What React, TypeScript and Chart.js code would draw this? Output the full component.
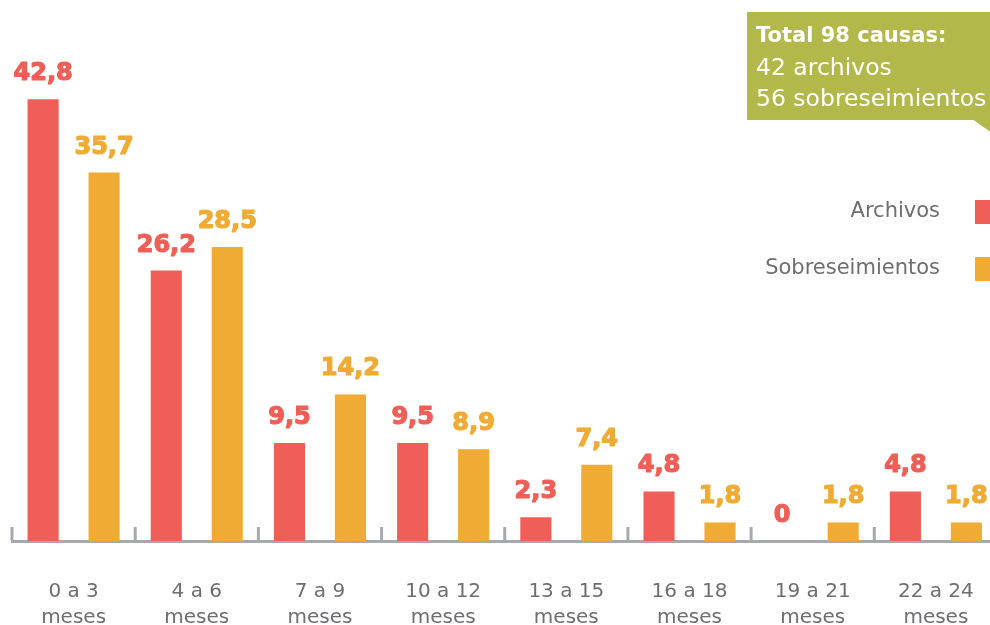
import React, { useEffect, useRef } from "react";
import { Chart, registerables } from "chart.js";

Chart.register(...registerables);

const categories: string[][] = [
  ["0 a 3", "meses"],
  ["4 a 6", "meses"],
  ["7 a 9", "meses"],
  ["10 a 12", "meses"],
  ["13 a 15", "meses"],
  ["16 a 18", "meses"],
  ["19 a 21", "meses"],
  ["22 a 24", "meses"],
];
const archivos = [42.8, 26.2, 9.5, 9.5, 2.3, 4.8, 0, 4.8];
const sobreseimientos = [35.7, 28.5, 14.2, 8.9, 7.4, 1.8, 1.8, 1.8];
const seriesNames = ["Archivos", "Sobreseimientos"];
const calloutLines = ["Total 98 causas:", "42 archivos", "56 sobreseimientos"];

const RED = "#ef5f57";
const ORANGE = "#f0ab35";
const GREY_TEXT = "#6d6e71";
const AXIS = "#a7a9ac";
const GREEN = "#b3b84a";
const FONT = "'DejaVu Sans', sans-serif";

const fmt = (v: number) => String(v).replace(".", ",");

const overlayPlugin = {
  id: "overlay",
  afterDatasetsDraw(chart: any) {
    const ctx = chart.ctx;
    const xs = chart.scales.x;
    const area = chart.chartArea;
    ctx.save();
    const n = categories.length;
    const step = (xs.right - xs.left) / n;
    ctx.strokeStyle = AXIS;
    ctx.lineWidth = 3;
    for (let i = 0; i <= n; i++) {
      const x = xs.left + i * step;
      ctx.beginPath();
      ctx.moveTo(x, area.bottom - 14);
      ctx.lineTo(x, area.bottom);
      ctx.stroke();
    }
    ctx.font = `bold 24px ${FONT}`;
    ctx.textAlign = "center";
    ctx.textBaseline = "alphabetic";
    ctx.lineWidth = 1.2;
    ctx.lineJoin = "round";
    chart.data.datasets.forEach((ds: any, di: number) => {
      const meta = chart.getDatasetMeta(di);
      ctx.fillStyle = ds.backgroundColor;
      ctx.strokeStyle = ds.backgroundColor;
      meta.data.forEach((bar: any, i: number) => {
        ctx.fillText(fmt(ds.data[i]), bar.x, bar.y - 19);
        ctx.strokeText(fmt(ds.data[i]), bar.x, bar.y - 19);
      });
    });
    ctx.font = `21px ${FONT}`;
    ctx.textAlign = "right";
    ctx.textBaseline = "middle";
    const legendY = [212, 269];
    const legendCol = [RED, ORANGE];
    seriesNames.forEach((name, i) => {
      ctx.fillStyle = GREY_TEXT;
      ctx.fillText(name, 940, legendY[i]);
      ctx.fillStyle = legendCol[i];
      ctx.fillRect(975, legendY[i] - 12, 24, 24);
    });
    ctx.fillStyle = GREEN;
    ctx.fillRect(747, 12, 270, 108);
    ctx.beginPath();
    ctx.moveTo(972, 119);
    ctx.lineTo(992, 119);
    ctx.lineTo(992, 133);
    ctx.closePath();
    ctx.fill();
    ctx.fillStyle = "#ffffff";
    ctx.textAlign = "left";
    ctx.textBaseline = "alphabetic";
    ctx.font = `bold 21px ${FONT}`;
    ctx.fillText(calloutLines[0], 756, 42);
    ctx.font = `23.5px ${FONT}`;
    ctx.fillText(calloutLines[1], 756, 75);
    ctx.fillText(calloutLines[2], 756, 106);
    ctx.restore();
  },
};

export default function App() {
  const ref = useRef<HTMLCanvasElement | null>(null);
  useEffect(() => {
    if (!ref.current) return;
    const chart = new Chart(ref.current, {
      type: "bar",
      data: {
        labels: categories,
        datasets: [
          {
            label: seriesNames[0],
            data: archivos,
            backgroundColor: RED,
            categoryPercentage: 0.99,
            barPercentage: 0.51,
          },
          {
            label: seriesNames[1],
            data: sobreseimientos,
            backgroundColor: ORANGE,
            categoryPercentage: 0.99,
            barPercentage: 0.51,
          },
        ],
      },
      options: {
        animation: false,
        responsive: true,
        maintainAspectRatio: false,
        layout: { padding: { left: 12, right: 3, top: 25, bottom: 0 } },
        plugins: { legend: { display: false }, tooltip: { enabled: false } },
        scales: {
          y: { display: false, min: 0, max: 50 },
          x: {
            grid: { display: false, drawTicks: false },
            border: { display: true, color: AXIS, width: 3 },
            ticks: {
              color: GREY_TEXT,
              font: { family: FONT, size: 20, lineHeight: 1.3 },
              padding: 38,
              maxRotation: 0,
              autoSkip: false,
            },
            afterFit: (scale: any) => {
              scale.height = 84;
            },
          },
        },
      },
      plugins: [overlayPlugin],
    });
    return () => chart.destroy();
  }, []);
  return (
    <div style={{ position: "fixed", left: 0, top: 0, width: 990, height: 625, overflow: "hidden", background: "#fff" }}>
      <div style={{ position: "absolute", left: 0, top: 0, width: 1012, height: 625 }}>
        <canvas ref={ref} />
      </div>
    </div>
  );
}
